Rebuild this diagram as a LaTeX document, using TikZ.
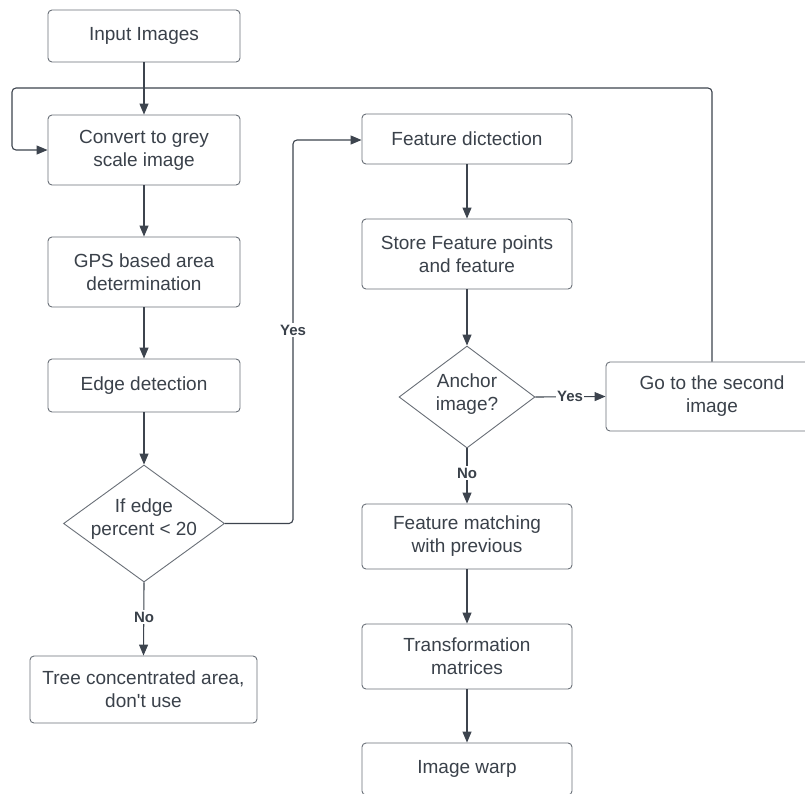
\documentclass[tikz,border=0pt]{standalone}
\usepackage{fontspec}
\setmainfont{Liberation Sans}[Ligatures=TeXOff]
\usetikzlibrary{shapes.geometric,arrows.meta}
\definecolor{txt}{HTML}{3A414A}
\definecolor{ln}{HTML}{3D444E}
\definecolor{bd}{HTML}{6A7078}
\begin{document}
\begin{tikzpicture}[x=1pt,y=-1pt,
  box/.style={draw=bd,line width=0.9pt,rounded corners=4pt,fill=white,text=txt,align=center,inner sep=0pt,font=\fontsize{19}{23}\selectfont},
  dia/.style={draw=bd,line width=0.9pt,shape=diamond,inner sep=0pt,fill=white},
  dtxt/.style={text=txt,align=center,inner sep=0pt,font=\fontsize{19}{23}\selectfont},
  conn/.style={draw=ln,line width=1.1pt,-{Triangle[length=11pt,width=9pt]}},
  plain/.style={draw=ln,line width=1.1pt},
  lab/.style={fill=white,text=txt,inner sep=1.5pt,font=\fontsize{15}{18}\selectfont\bfseries}]
\useasboundingbox (0,0) rectangle (805,793);
\fill[white] (0,0) rectangle (805,793);
% left column
\node[box,minimum width=192pt,minimum height=52pt] (in) at (144,36) {Input Images};
\node[box,minimum width=192pt,minimum height=70pt] (conv) at (144,150) {Convert to grey\\scale image};
\node[box,minimum width=192pt,minimum height=70pt] (gps) at (144,272) {GPS based area\\determination};
\node[box,minimum width=192pt,minimum height=53pt] (edge) at (144,385.5) {Edge detection};
\node[dia,minimum width=161pt,minimum height=117pt] (d1) at (144,523.5) {};
\node[dtxt] (d1t) at (144,519) {If edge\\percent < 20};
\node[box,minimum width=227pt,minimum height=67pt] (tree) at (143.5,689.5) {Tree concentrated area,\\don't use};
% right column
\node[box,minimum width=210pt,minimum height=50pt] (fd) at (467,139) {Feature dictection};
\node[box,minimum width=210pt,minimum height=70pt] (store) at (467,254) {Store Feature points\\and feature};
\node[dia,minimum width=136pt,minimum height=102pt] (d2) at (467,397) {};
\node[dtxt] (d2t) at (467,394) {Anchor\\image?};
\node[box,minimum width=212pt,minimum height=69pt] (go) at (712,396.5) {Go to the second\\image};
\node[box,minimum width=210pt,minimum height=65pt] (match) at (467,536.5) {Feature matching\\with previous};
\node[box,minimum width=210pt,minimum height=65pt] (transf) at (467,656.5) {Transformation\\matrices};
\node[box,minimum width=210pt,minimum height=52pt] (warp) at (467,769) {Image warp};
% connectors
\draw[conn] (in) -- (conv);
\draw[conn] (conv) -- (gps);
\draw[conn] (gps) -- (edge);
\draw[conn] (edge) -- (d1.north);
\draw[conn,rounded corners=4pt] (d1.east) -- (293,523.5) -- (293,140) -- (fd.west |- 0,140);
\node[lab] (yes1) at (293,330) {Yes};
\draw[conn] (d1.south) -- (tree.north);
\node[lab] (no1) at (144,617) {No};
\draw[conn] (fd) -- (store);
\draw[conn] (store) -- (d2.north);
\draw[conn] (d2.east) -- (go.west);
\node[lab] (yes2) at (570,396) {Yes};
\draw[conn] (d2.south) -- (match.north);
\node[lab] (no2) at (467,473) {No};
\draw[conn] (match) -- (transf);
\draw[conn] (transf) -- (warp);
\draw[conn,rounded corners=4pt] (go.north) -- (712,88) -- (12,88) -- (12,150) -- (conv.west);
\end{tikzpicture}
\end{document}
